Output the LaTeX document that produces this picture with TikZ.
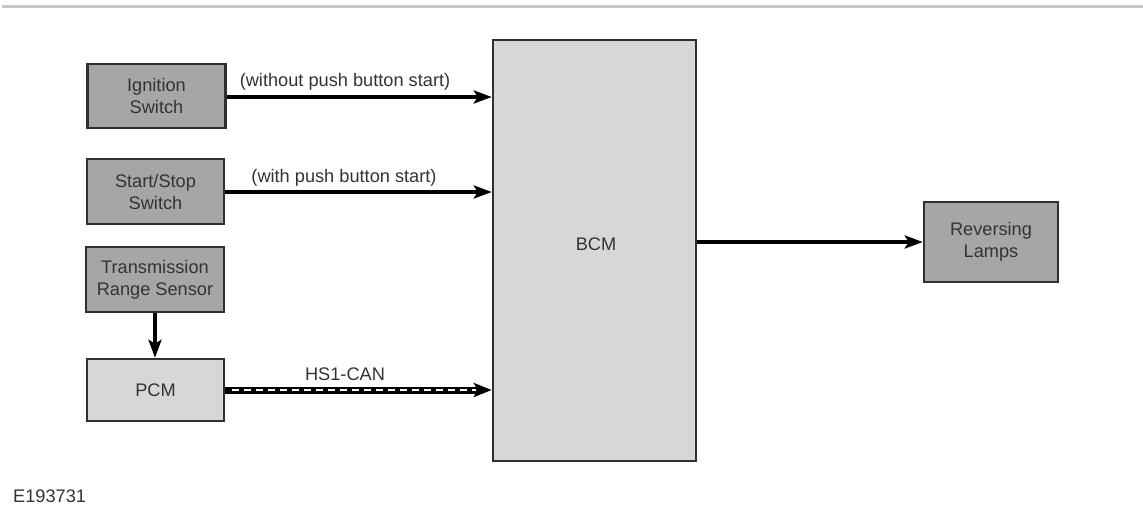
\documentclass[tikz,border=0pt]{standalone}
\usepackage{fontspec}
\setmainfont{Liberation Sans}
\usetikzlibrary{arrows.meta}
\definecolor{darkbox}{HTML}{A6A6A6}
\definecolor{lightbox}{HTML}{D7D7D7}
\definecolor{edge}{HTML}{303030}
\definecolor{txt}{HTML}{333333}
\tikzset{
  box/.style={draw=edge, line width=2.5pt, text=txt, align=center, inner sep=0pt,
    font=\fontsize{18.2}{22}\selectfont},
  dbox/.style={box, fill=darkbox},
  lbox/.style={box, fill=lightbox},
  conn/.style={line width=4pt, -{Stealth[length=18pt,width=13pt,inset=4pt]}},
  lbl/.style={text=txt, font=\fontsize{18.2}{22}\selectfont, inner sep=0pt}
}
\begin{document}
\begin{tikzpicture}[x=1pt,y=-1pt]
\useasboundingbox (0,0) rectangle (1143,520);
\draw[color=black!22, line width=3pt] (2,6) -- (1143,6);

\node[dbox, minimum width=138pt, minimum height=64pt] (ign) at (156.5,96) {Ignition\\Switch};
\node[dbox, minimum width=137pt, minimum height=65pt] (ss) at (155.5,191.5) {Start/Stop\\Switch};
\node[dbox, minimum width=138pt, minimum height=65pt] (trs) at (155,279.5) {Transmission\\Range Sensor};
\node[lbox, minimum width=137pt, minimum height=62pt] (pcm) at (155.5,390) {PCM};
\node[lbox, minimum width=203pt, minimum height=421pt] (bcm) at (594.5,250.5) {};
\node[lbl] (bcmt) at (596,244) {BCM};
\node[dbox, minimum width=134pt, minimum height=80pt] (lamps) at (991,242) {Reversing\\Lamps};

\draw[conn] (ign.east |- 0,97) -- (bcm.west |- 0,97);
\node[lbl] (l1) at (345,82) {(without push button start)};
\draw[conn] (ss.east |- 0,192) -- (bcm.west |- 0,192);
\node[lbl] (l2) at (344,178) {(with push button start)};
\draw[conn] (trs.south -| 155,0) -- (pcm.north -| 155,0);
\draw[line width=7pt, -{Stealth[length=18pt,width=14pt,inset=4pt]}] (pcm.east |- 0,390) -- (bcm.west |- 0,390);
\node[lbl] (l3) at (345,374) {HS1-CAN};
\draw[white, line width=2.5pt, dash pattern=on 7pt off 5pt] ([xshift=7pt]pcm.east |- 0,390) -- ([xshift=-16pt]bcm.west |- 0,390);
\draw[conn] (bcm.east |- 0,242) -- (lamps.west);

\node[lbl, anchor=west] (code) at (13,496) {E193731};
\end{tikzpicture}
\end{document}
